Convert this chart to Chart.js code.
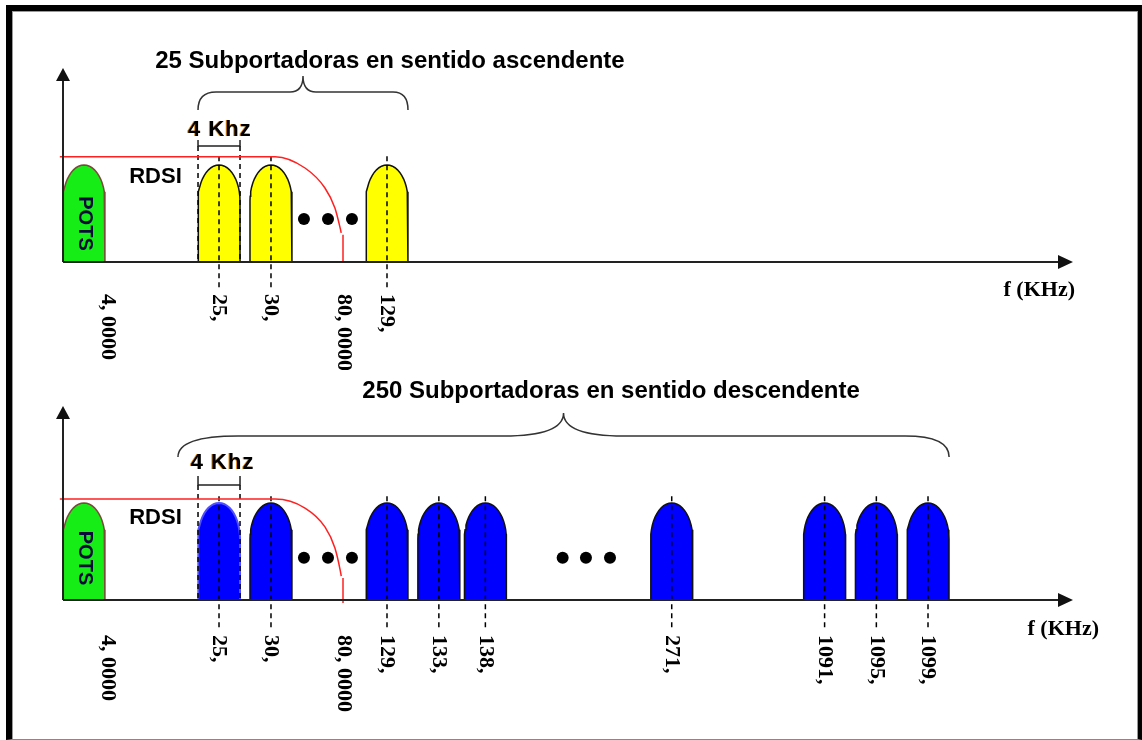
<!DOCTYPE html>
<html>
<head>
<meta charset="utf-8">
<script src="https://cdn.jsdelivr.net/npm/chart.js@4.4.1/dist/chart.umd.min.js"></script>
<style>
html, body { margin: 0; padding: 0; background: #fff; }
body { width: 1142px; height: 740px; position: relative; overflow: hidden; }
#frame {
    position: absolute; left: 6px; top: 5px; width: 1126px; height: 728px;
    border-top: 6px solid #000; border-left: 6px solid #000;
    border-right: 4px solid #000; border-bottom: 1px solid #888;
    box-shadow: inset 1px 1px 0 #999, inset -1px 0 0 #999;
}
canvas { position: absolute; left: 0; }
#up { top: 0; }
#down { top: 370px; }
</style>
</head>
<body>
<div id="frame"></div>
<canvas id="up" width="1142" height="370"></canvas>
<canvas id="down" width="1142" height="370"></canvas>
<script>
// Eje esquemático: 1 unidad = 1 kHz del dibujo (una subportadora mide 4 unidades)
const potsCenter = 2;
const upCarriers = [14.86, 19.81, 30.86];
const downCarriers = [14.86, 19.81, 30.86, 35.8, 40.23, 57.98, 72.54, 77.47, 82.39];

const upTickPos = [4.24, 14.86, 19.81, 26.76, 30.86];
const upTickLabels = ['4, 0000', '25,', '30,', '80, 0000', '129,'];
const downTickPos = [4.24, 14.86, 19.81, 26.76, 30.86, 35.8, 40.23, 57.98, 72.54, 77.47, 82.39];
const downTickLabels = ['4, 0000', '25,', '30,', '80, 0000', '129,', '133,', '138,', '271,', '1091,', '1095,', '1099,'];

// máscara RDSI (línea roja)
const maskX = [-0.3, 20.2, 23.05, 24.95, 25.9, 26.4, 26.5];
const upMaskY = [1.086, 1.086, 0.969, 0.763, 0.557, 0.35, 0.30];
const downMaskY = [1.041, 1.041, 0.948, 0.753, 0.536, 0.309, 0.247];
const maskEdge = 26.67;

const upDots = [22.95, 25.24, 27.52];
const downDots = [22.95, 25.24, 27.52, 47.59, 49.81, 52.1];

const upTitle = '25 Subportadoras en sentido ascendente';
const downTitle = '250 Subportadoras en sentido descendente';

const CARRIER_W = 4;
const TOP_RY = 0.371;

function bullet(c) {
    const h = CARRIER_W / 2;
    const pts = [{x: c - h, y: 0}];
    for (let i = 0; i <= 24; i++) {
        const t = Math.PI - i * Math.PI / 24;
        pts.push({x: c + h * Math.cos(t), y: (1 - TOP_RY) + TOP_RY * Math.sin(t)});
    }
    pts.push({x: c + h, y: 0});
    return pts;
}

function lineSet(data, color, width, dash, order) {
    return {
        data: data, showLine: true, borderColor: color, borderWidth: width,
        borderDash: dash || [], pointRadius: 0, fill: false, tension: 0,
        clip: false, order: order
    };
}

function buildDatasets(p) {
    const ds = [];
    // POTS
    ds.push({
        data: bullet(potsCenter), showLine: true, fill: 'origin',
        backgroundColor: '#16ec16', borderColor: '#7a4a3a', borderWidth: 1.5,
        pointRadius: 0, tension: 0, clip: false, order: 6
    });
    p.carriers.forEach((c, i) => {
        const soft = p.softFirst && i === 0;
        ds.push({
            data: bullet(c), showLine: true, fill: 'origin',
            backgroundColor: p.color, borderColor: soft ? '#4f4fff' : '#111',
            borderWidth: soft ? 2 : 1.5, pointRadius: 0, tension: 0, clip: false, order: 6
        });
        ds.push(lineSet([{x: c, y: p.dashBottom}, {x: c, y: p.dashTop}], '#000', 1.5, [5, 4], 2));
    });
    // corchete de 4 kHz
    const a = p.carriers[0] - CARRIER_W / 2, b = p.carriers[0] + CARRIER_W / 2;
    ds.push(lineSet([{x: a, y: p.bracketTop}, {x: a, y: p.bracketY}, {x: b, y: p.bracketY}, {x: b, y: p.bracketTop}], '#222', 1.5, null, 2));
    ds.push(lineSet([{x: a, y: p.bracketY}, {x: a, y: 0}], '#000', 1.5, [5, 4], 2));
    ds.push(lineSet([{x: b, y: p.bracketY}, {x: b, y: 0}], '#000', 1.5, [5, 4], 2));
    // máscara roja
    ds.push({
        data: maskX.map((x, i) => ({x: x, y: p.maskY[i]})), showLine: true,
        borderColor: '#ff2020', borderWidth: 1.5, pointRadius: 0, fill: false,
        cubicInterpolationMode: 'monotone', clip: false, order: 1
    });
    ds.push(lineSet([{x: maskEdge, y: p.maskY[p.maskY.length - 1] - 0.02}, {x: maskEdge, y: p.dropEnd}], '#ff2020', 1.5, null, 1));
    // puntos suspensivos
    ds.push({
        data: p.dots.map(x => ({x: x, y: p.dotY})), showLine: false,
        pointRadius: 6, pointBackgroundColor: '#000', pointBorderWidth: 0, clip: false, order: 1
    });
    return ds;
}

const diagramPlugin = {
    id: 'diagram',
    afterDatasetsDraw(chart) {
        const p = chart.options.plugins.diagram;
        const ctx = chart.ctx;
        const xs = chart.scales.x, ys = chart.scales.y;
        const X = v => xs.getPixelForValue(v);
        const Y = v => ys.getPixelForValue(v);
        const x0 = X(0), y0 = Y(0);

        // ejes con flechas
        ctx.save();
        ctx.strokeStyle = '#222';
        ctx.fillStyle = '#111';
        ctx.lineWidth = 2;
        ctx.beginPath();
        ctx.moveTo(x0, y0); ctx.lineTo(x0, Y(2) + 8);
        ctx.moveTo(x0, y0); ctx.lineTo(X(xs.max) - 8, y0);
        ctx.stroke();
        ctx.beginPath();
        ctx.moveTo(x0, Y(2)); ctx.lineTo(x0 - 7, Y(2) + 13); ctx.lineTo(x0 + 7, Y(2) + 13); ctx.closePath();
        ctx.fill();
        ctx.beginPath();
        ctx.moveTo(X(xs.max), y0); ctx.lineTo(X(xs.max) - 15, y0 - 7); ctx.lineTo(X(xs.max) - 15, y0 + 7); ctx.closePath();
        ctx.fill();

        // llave
        const bl = X(p.brace[0]), br = X(p.brace[1]), bc = (bl + br) / 2;
        const yEnd = Y(p.braceEnd), yFlat = Y(p.braceFlat), yTip = Y(p.braceTip);
        ctx.strokeStyle = '#333';
        ctx.lineWidth = 1.5;
        ctx.beginPath();
        ctx.moveTo(bl, yEnd);
        ctx.quadraticCurveTo(bl, yFlat, bl + p.braceR[0], yFlat);
        ctx.lineTo(bc - p.braceR[1], yFlat);
        ctx.quadraticCurveTo(bc, yFlat, bc, yTip);
        ctx.quadraticCurveTo(bc, yFlat, bc + p.braceR[1], yFlat);
        ctx.lineTo(br - p.braceR[2], yFlat);
        ctx.quadraticCurveTo(br, yFlat, br, yEnd);
        ctx.stroke();

        // textos
        ctx.fillStyle = '#000';
        ctx.textBaseline = 'middle';
        ctx.textAlign = 'center';
        ctx.font = 'bold 24px "Liberation Sans", Arial, sans-serif';
        ctx.fillText(p.title, X(p.titleX), Y(p.titleY));

        ctx.font = 'bold 22px "Liberation Sans", Arial, sans-serif';
        ctx.fillText('RDSI', X(8.81), Y(p.rdsiY));

        ctx.font = 'bold 22px "Liberation Sans", Arial, sans-serif';
        ctx.letterSpacing = '1px';
        ctx.fillStyle = '#e08a10';
        ctx.fillText('4 Khz', X(p.khzX) - 1, Y(p.khzY));
        ctx.fillStyle = '#000';
        ctx.fillText('4 Khz', X(p.khzX), Y(p.khzY));
        ctx.letterSpacing = '0px';

        ctx.save();
        ctx.translate(X(potsCenter) + 1, Y(p.potsY));
        ctx.rotate(Math.PI / 2);
        ctx.font = 'bold 20px "Liberation Sans", Arial, sans-serif';
        ctx.fillStyle = '#0a0a3a';
        ctx.fillText('POTS', 0, 0);
        ctx.restore();

        ctx.font = 'bold 22px "Liberation Serif", "Times New Roman", serif';
        ctx.textAlign = 'right';
        ctx.fillText('f (KHz)', X(xs.max) + p.fShift, y0 + p.fDy);

        ctx.textAlign = 'left';
        p.tickPos.forEach((v, i) => {
            ctx.save();
            ctx.translate(X(v), y0 + p.tickDy);
            ctx.rotate(Math.PI / 2);
            ctx.fillText(p.tickLabels[i], 0, 0);
            ctx.restore();
        });
        ctx.restore();
    }
};

function makePanel(id, p) {
    return new Chart(document.getElementById(id), {
        type: 'scatter',
        data: {datasets: buildDatasets(p)},
        options: {
            responsive: false, animation: false, devicePixelRatio: 1, events: [],
            layout: {padding: {left: 63, right: 69, top: p.padTop, bottom: p.padBottom}},
            scales: {
                x: {type: 'linear', min: 0, max: 96.2, display: false},
                y: {type: 'linear', min: 0, max: 2, display: false}
            },
            plugins: {legend: {display: false}, tooltip: {enabled: false}, diagram: p}
        },
        plugins: [diagramPlugin]
    });
}

makePanel('up', {
    padTop: 68, padBottom: 108,
    carriers: upCarriers, color: '#ffff00', softFirst: false,
    dashTop: 1.1, dashBottom: -0.26,
    bracketY: 1.196, bracketTop: 1.258, khzX: 14.95, khzY: 1.366,
    maskY: upMaskY, dropEnd: 0,
    dots: upDots, dotY: 0.443,
    brace: [12.86, 32.86], braceEnd: 1.567, braceFlat: 1.753, braceTip: 1.918, braceR: [18, 13, 15],
    title: upTitle, titleX: 31.14, titleY: 2.07,
    rdsiY: 0.881, potsY: 0.397,
    tickPos: upTickPos, tickLabels: upTickLabels, tickDy: 32,
    fShift: 2, fDy: 28
});

makePanel('down', {
    padTop: 36, padBottom: 140,
    carriers: downCarriers, color: '#0000ff', softFirst: true,
    dashTop: 1.09, dashBottom: -0.28,
    bracketY: 1.186, bracketTop: 1.278, khzX: 15.2, khzY: 1.412,
    maskY: downMaskY, dropEnd: -0.03,
    dots: downDots, dotY: 0.435,
    brace: [10.95, 84.4], braceEnd: 1.474, braceFlat: 1.691, braceTip: 1.928, braceR: [60, 60, 44],
    title: downTitle, titleX: 52.2, titleY: 2.155,
    rdsiY: 0.845, potsY: 0.433,
    tickPos: downTickPos, tickLabels: downTickLabels, tickDy: 35,
    fShift: 26, fDy: 29
});
</script>
</body>
</html>
